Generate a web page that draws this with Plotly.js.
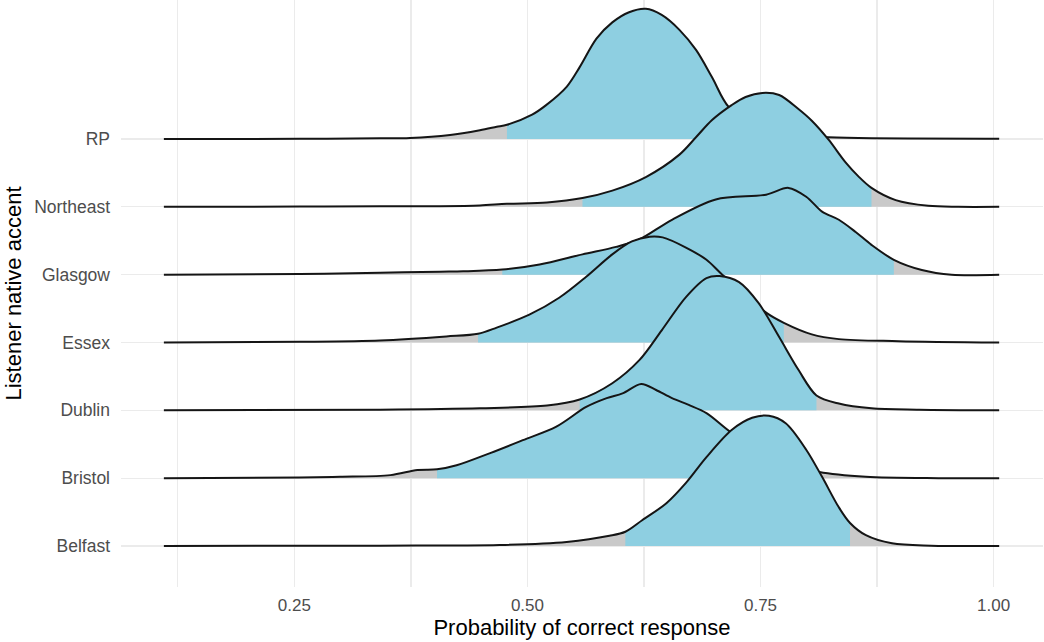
<!DOCTYPE html>
<html><head><meta charset="utf-8">
<script src="https://cdn.plot.ly/plotly-3.0.1.min.js"></script>
<style>html,body{margin:0;padding:0;background:#fff}</style></head>
<body>
<div id="chart" style="width:1044px;height:642px"></div>
<script>
// Categories from top row to bottom row
const categories = ['RP', 'Northeast', 'Glasgow', 'Essex', 'Dublin', 'Bristol', 'Belfast'];

// Density curves (x = probability, h = ridge height in row units)
const rpX = [0.110,0.256,0.342,0.374,0.417,0.449,0.467,0.478,0.505,0.520,0.542,0.556,0.574,0.591,0.609,0.627,0.644,0.663,0.681,0.698,0.716,0.748,0.780,0.816,0.855,1.006];
const rpH = [0,0.003,0.01,0.015,0.06,0.13,0.18,0.21,0.36,0.50,0.77,1.06,1.48,1.72,1.87,1.92,1.83,1.61,1.31,0.91,0.47,0.18,0.07,0.03,0.015,0.005];

const northeastX = [0.110,0.256,0.342,0.406,0.449,0.478,0.521,0.559,0.591,0.627,0.663,0.681,0.698,0.719,0.734,0.752,0.770,0.790,0.805,0.823,0.841,0.855,0.869,0.895,0.930,0.962,1.006];
const northeastH = [0,0.005,0.01,0.01,0.02,0.045,0.065,0.13,0.24,0.44,0.77,1.03,1.28,1.50,1.62,1.68,1.65,1.45,1.27,0.99,0.66,0.45,0.28,0.10,0.015,0,0];

const glasgowX = [0.110,0.256,0.342,0.406,0.431,0.473,0.513,0.559,0.595,0.620,0.655,0.702,0.756,0.780,0.799,0.816,0.834,0.852,0.869,0.893,0.923,0.955,1.006];
const glasgowH = [0,0.01,0.03,0.045,0.05,0.075,0.15,0.30,0.41,0.52,0.81,1.11,1.18,1.28,1.15,0.93,0.81,0.63,0.44,0.22,0.07,0,0];

const essexX = [0.110,0.256,0.342,0.413,0.447,0.467,0.502,0.534,0.563,0.591,0.612,0.631,0.645,0.670,0.692,0.709,0.734,0.756,0.775,0.805,0.834,0.898,1.006];
const essexH = [0,0.01,0.03,0.09,0.13,0.22,0.41,0.66,0.97,1.30,1.49,1.56,1.55,1.40,1.22,1.00,0.71,0.44,0.29,0.12,0.05,0.02,0];

const dublinX = [0.110,0.342,0.449,0.521,0.556,0.591,0.620,0.644,0.670,0.692,0.706,0.727,0.748,0.770,0.791,0.810,0.834,0.869,0.920,1.006];
const dublinH = [0,0.01,0.03,0.07,0.16,0.40,0.74,1.18,1.67,1.95,1.98,1.89,1.58,1.08,0.59,0.22,0.10,0.03,0.01,0];

const bristolX = [0.110,0.256,0.299,0.353,0.382,0.403,0.424,0.460,0.495,0.531,0.563,0.585,0.602,0.622,0.638,0.655,0.673,0.692,0.719,0.748,0.780,0.813,0.863,0.941,1.006];
const bristolH = [0,0.01,0.02,0.045,0.12,0.13,0.19,0.37,0.56,0.76,1.05,1.18,1.25,1.39,1.30,1.18,1.08,0.96,0.67,0.44,0.22,0.09,0.02,0,0];

const belfastX = [0.110,0.342,0.470,0.542,0.588,0.605,0.623,0.649,0.670,0.692,0.719,0.741,0.759,0.777,0.799,0.816,0.834,0.846,0.863,0.891,0.933,1.006];
const belfastH = [0,0.005,0.015,0.06,0.15,0.21,0.38,0.63,0.93,1.31,1.71,1.89,1.92,1.81,1.42,1.02,0.57,0.34,0.16,0.04,0.005,0];

// Interval (blue) limits per category, same order as categories
const lowerQ = [0.478, 0.559, 0.473, 0.447, 0.556, 0.403, 0.605];
const upperQ = [0.780, 0.869, 0.893, 0.775, 0.810, 0.813, 0.846];

// X tick labels
const xTickVals = [0.25, 0.50, 0.75, 1.00];
const xTickText = ['0.25', '0.50', '0.75', '1.00'];
const xMinorVals = [0.125, 0.375, 0.625, 0.875];

const curvesX = [rpX, northeastX, glasgowX, essexX, dublinX, bristolX, belfastX];
const curvesH = [rpH, northeastH, glasgowH, essexH, dublinH, bristolH, belfastH];

const BLUE = '#8ecfe1', GREY = '#c9c9c9', LINE = '#151515';
const traces = [];
const n = categories.length;
const positions = categories.map((c, i) => n - i);

categories.forEach((cat, i) => {
  const base = positions[i];
  const xs = curvesX[i];
  const ys = curvesH[i].map(h => base + h);
  const common = {type: 'scatter', mode: 'lines', hoverinfo: 'skip', showlegend: false};
  // grey tails (full area)
  traces.push(Object.assign({}, common, {x: xs, y: xs.map(() => base), line: {width: 0}}));
  traces.push(Object.assign({}, common, {x: xs, y: ys, fill: 'tonexty', fillcolor: GREY,
    line: {width: 0, shape: 'spline', smoothing: 0.9}}));
  // blue central interval
  const idx = xs.map((v, k) => k).filter(k => xs[k] >= lowerQ[i] - 1e-9 && xs[k] <= upperQ[i] + 1e-9);
  const bx = idx.map(k => xs[k]);
  const by = idx.map(k => ys[k]);
  traces.push(Object.assign({}, common, {x: bx, y: bx.map(() => base), line: {width: 0}}));
  traces.push(Object.assign({}, common, {x: bx, y: by, fill: 'tonexty', fillcolor: BLUE,
    line: {width: 0, shape: 'spline', smoothing: 0.9}}));
  // outline
  traces.push(Object.assign({}, common, {x: xs, y: ys,
    line: {color: LINE, width: 2, shape: 'spline', smoothing: 0.9}}));
});

const layout = {
  width: 1044, height: 642,
  margin: {l: 121, r: 1, t: 0, b: 55},
  paper_bgcolor: '#ffffff', plot_bgcolor: '#ffffff',
  font: {family: 'Liberation Sans, Arial, sans-serif', color: '#4d4d4d', size: 17},
  xaxis: {
    range: [0.064, 1.053],
    tickvals: xTickVals, ticktext: xTickText,
    showgrid: true, gridcolor: '#ebebeb', gridwidth: 1.2,
    minor: {tickvals: xMinorVals, showgrid: true, gridcolor: '#ebebeb', gridwidth: 1.2},
    zeroline: false, showline: false, ticks: '',
    ticklabelstandoff: 6,
    tickfont: {size: 17, color: '#4d4d4d'},
    title: {text: 'Probability of correct response', font: {size: 22, color: '#000000'}, standoff: 3}
  },
  yaxis: {
    range: [0.3955, 9.05],
    tickvals: positions, ticktext: categories,
    showgrid: true, gridcolor: '#ebebeb', gridwidth: 1.2,
    zeroline: false, showline: false, ticks: '',
    ticklabelstandoff: 10,
    tickfont: {size: 17.5, color: '#4d4d4d'},
    title: {text: 'Listener native accent', font: {size: 22, color: '#000000'}, standoff: 6}
  }
};

Plotly.newPlot('chart', traces, layout, {displayModeBar: false, staticPlot: true});
</script>
</body></html>
